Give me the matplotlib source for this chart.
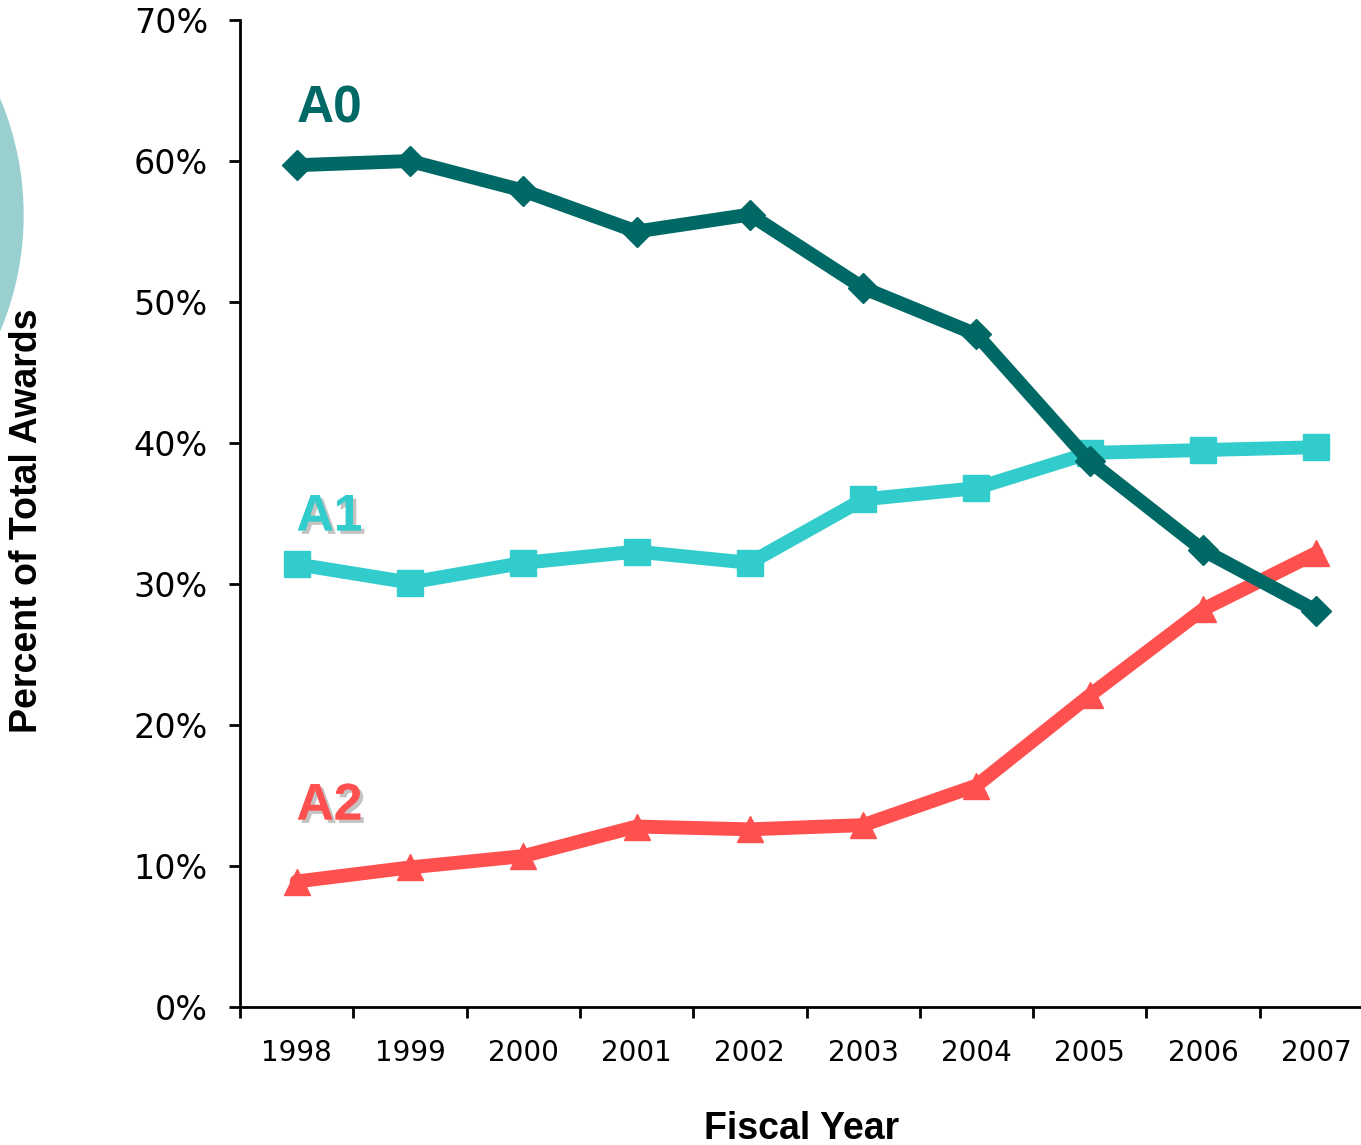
import matplotlib
matplotlib.use("Agg")
import matplotlib.pyplot as plt
import matplotlib.patheffects as pe
from matplotlib.patches import Ellipse

years = ["1998", "1999", "2000", "2001", "2002", "2003", "2004", "2005", "2006", "2007"]
a0 = [59.7, 60.0, 57.9, 55.0, 56.2, 51.0, 47.7, 38.7, 32.4, 28.1]
a1 = [31.4, 30.1, 31.5, 32.3, 31.5, 36.0, 36.8, 39.3, 39.5, 39.7]
a2 = [8.9, 9.9, 10.7, 12.8, 12.6, 12.9, 15.7, 22.1, 28.2, 32.2]
yticks = [0, 10, 20, 30, 40, 50, 60, 70]

W, H = 1361, 1145
fig = plt.figure(figsize=(W / 100, H / 100), dpi=100)

# decorative circle at left edge
circ = Ellipse((-276 / W, 1 - 215 / H), 2 * 299 / W, 2 * 299 / H,
               transform=fig.transFigure, color="#9ACFCF", zorder=0)
fig.patches.append(circ)

ax = fig.add_axes([240 / W, 1 - 1007 / H, (1373 - 240) / W, (1007 - 20) / H])
ax.set_facecolor("none")

x = list(range(len(years)))
c0, c1, c2 = "#006966", "#33CCCC", "#FF5050"
ax.plot(x, a0, color=c0, lw=10, marker="D", ms=15, solid_joinstyle="round",
        solid_capstyle="round", zorder=3)
ax.plot(x, a1, color=c1, lw=10, marker="s", ms=19, zorder=2)
ax.plot(x, a2, color=c2, lw=10, marker="^", ms=19, solid_joinstyle="round",
        solid_capstyle="round", zorder=2)

ax.set_xlim(-0.5, 9.5)
ax.set_ylim(0, 70)
ax.set_yticks(yticks)
ax.set_yticklabels([f"{v}%" for v in yticks], fontfamily="DejaVu Sans", fontsize=24)
ax.set_xticks(x)
ax.set_xticklabels(years, fontfamily="DejaVu Sans", fontsize=20)
ax.set_xticks([i - 0.5 for i in range(len(years))], minor=True)
ax.tick_params(axis="x", which="major", length=0, pad=23)
ax.tick_params(axis="x", which="minor", length=8, width=2, direction="out")
ax.tick_params(axis="y", length=8, width=2, direction="out", pad=15)

for s in ["top", "right"]:
    ax.spines[s].set_visible(False)
for s in ["left", "bottom"]:
    ax.spines[s].set_linewidth(2)

ax.set_ylabel("Percent of Total Awards", fontfamily="Liberation Sans",
              fontweight="bold", fontsize=27)
ax.yaxis.set_label_coords(-0.172, 0.493)
fig.text(802 / W, 1 - 1129 / H, "Fiscal Year", fontfamily="Liberation Sans",
         fontweight="bold", fontsize=27, ha="center", va="center")

shadow = [pe.withSimplePatchShadow(offset=(2.5, -2.5), shadow_rgbFace="#AAAAAA", alpha=0.7), pe.Normal()]
ax.text(0.0, 62.7, "A0", color=c0, fontfamily="Liberation Sans", fontweight="bold",
        fontsize=37, ha="left", va="baseline")
ax.text(0.0, 33.8, "A1", color=c1, fontfamily="Liberation Sans", fontweight="bold",
        fontsize=37, ha="left", va="baseline", path_effects=shadow)
ax.text(0.0, 13.3, "A2", color=c2, fontfamily="Liberation Sans", fontweight="bold",
        fontsize=37, ha="left", va="baseline", path_effects=shadow)

fig.savefig("out.png", dpi=100)
